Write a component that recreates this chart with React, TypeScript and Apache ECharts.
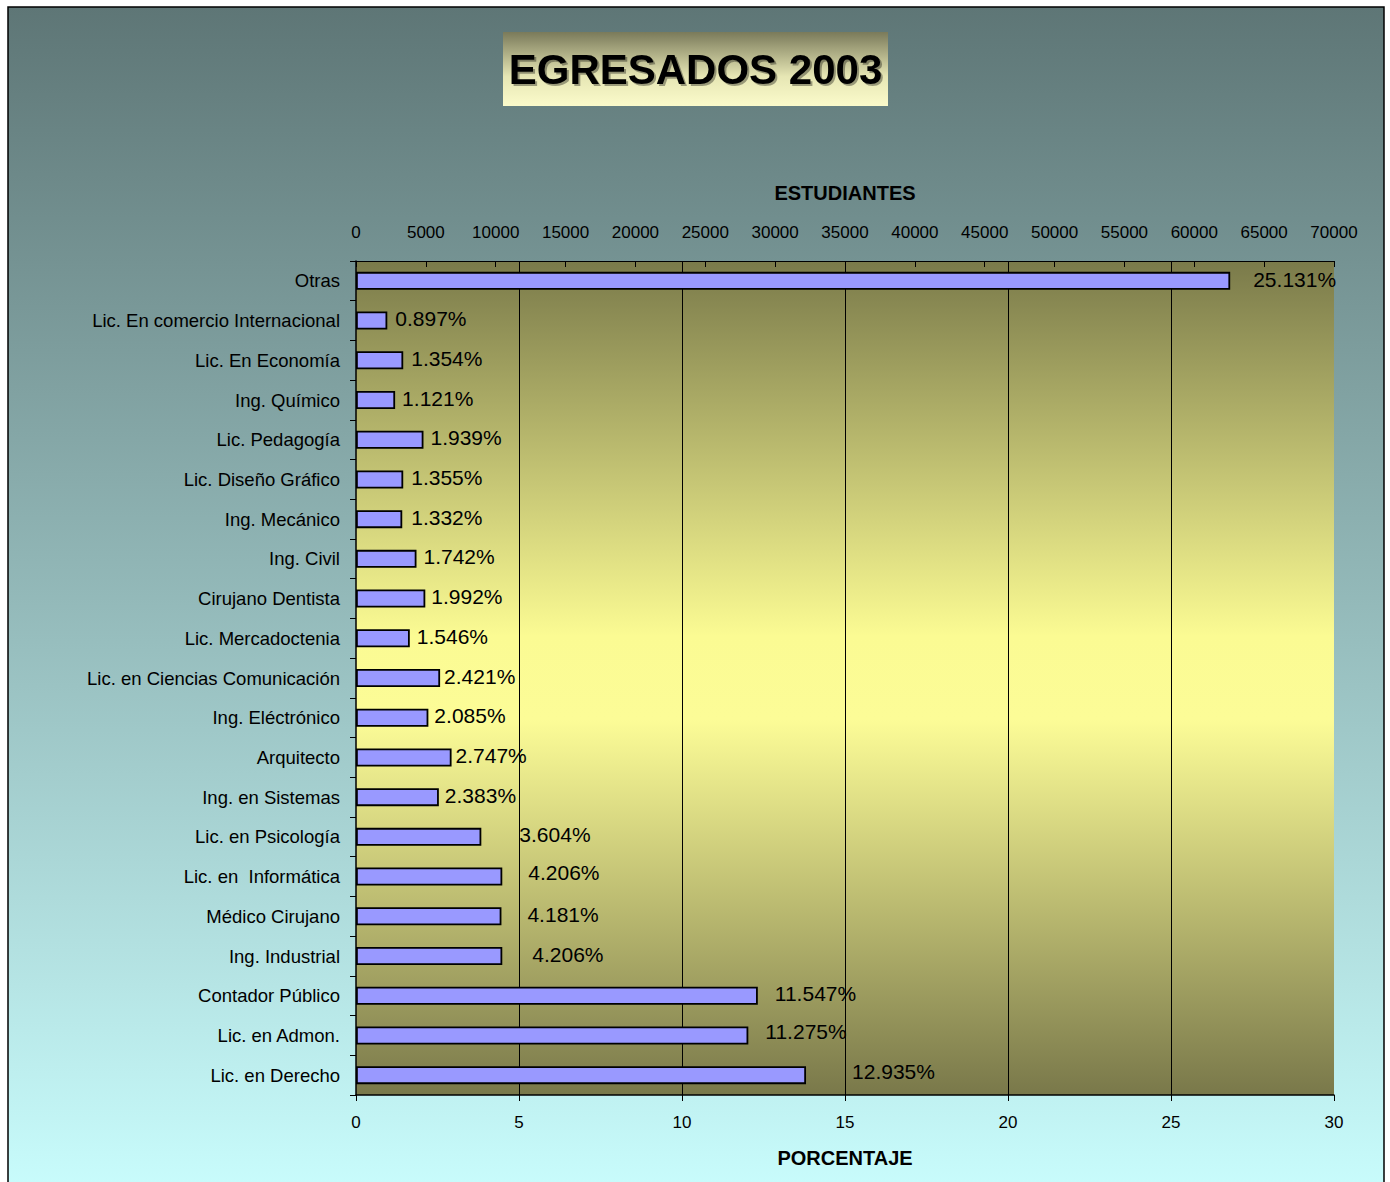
import { useEffect, useRef } from "react";
import * as echarts from "echarts";

const categories = [
  "Otras",
  "Lic. En comercio Internacional",
  "Lic. En Economía",
  "Ing. Químico",
  "Lic. Pedagogía",
  "Lic. Diseño Gráfico",
  "Ing. Mecánico",
  "Ing. Civil",
  "Cirujano Dentista",
  "Lic. Mercadoctenia",
  "Lic. en Ciencias Comunicación",
  "Ing. Eléctrónico",
  "Arquitecto",
  "Ing. en Sistemas",
  "Lic. en Psicología",
  "Lic. en  Informática",
  "Médico Cirujano",
  "Ing. Industrial",
  "Contador Público",
  "Lic. en Admon.",
  "Lic. en Derecho",
];

// number of graduates (read against the top "ESTUDIANTES" axis)
const students = [
  62570, 2240, 3380, 2800, 4830, 3380, 3310, 4330, 4960, 3850, 6020, 5180,
  6840, 5930, 8970, 10470, 10410, 10470, 28760, 28080, 32210,
];

const percentLabels = [
  "25.131%", "0.897%", "1.354%", "1.121%", "1.939%", "1.355%", "1.332%",
  "1.742%", "1.992%", "1.546%", "2.421%", "2.085%", "2.747%", "2.383%",
  "3.604%", "4.206%", "4.181%", "4.206%", "11.547%", "11.275%", "12.935%",
];

// label placement (style only): extra horizontal gap and vertical shift of each data label
const labelShift: [number, number][] = [
  [23, -1], [8, -2], [8, -2], [7, -2], [7, -2], [8, -2], [9, -2],
  [7, -2], [6, -2], [7, -2], [4, -2], [6, -2], [4, -2], [6, -2],
  [38, -2], [26, -4], [26, -2], [30, -2], [17, -2], [17, -4], [46, -4],
];

const studentAxis = { min: 0, max: 70000, interval: 5000 };
const percentAxis = { min: 0, max: 30, interval: 5 };

const FONT = "'Liberation Sans', Arial, sans-serif";

export default function App() {
  const ref = useRef<HTMLDivElement>(null);
  useEffect(() => {
    document.body.style.margin = "0";
    const chart = echarts.init(ref.current!, null, { renderer: "svg" });
    const plotBg = new echarts.graphic.LinearGradient(0, 0, 0, 1, [
      { offset: 0, color: "#7a7a4a" },
      { offset: 0.45, color: "#fbfb93" },
      { offset: 0.55, color: "#fcfc97" },
      { offset: 1, color: "#79784a" },
    ]);
    chart.setOption({
      animation: false,
      backgroundColor: "#ffffff",
      graphic: [
        {
          type: "rect",
          z: -10,
          silent: true,
          shape: { x: 8, y: 7, width: 1376, height: 1190 },
          style: {
            fill: new echarts.graphic.LinearGradient(0, 0, 0, 1, [
              { offset: 0, color: "#5e7676" },
              { offset: 1, color: "#c9fdfd" },
            ]),
            stroke: "#000",
            lineWidth: 1.5,
          },
        },
        {
          type: "rect",
          z: 10,
          shape: { x: 503, y: 32, width: 385, height: 74 },
          style: {
            fill: new echarts.graphic.LinearGradient(0, 0, 0, 1, [
              { offset: 0, color: "#7a7a5a" },
              { offset: 0.6, color: "#e6e6b4" },
              { offset: 1, color: "#fbfbcb" },
            ]),
          },
        },
        {
          type: "text",
          z: 11,
          x: 695.5,
          y: 69,
          style: {
            text: "EGRESADOS 2003",
            font: `bold 42px ${FONT}`,
            fill: "#000",
            align: "center",
            verticalAlign: "middle",
            textShadowColor: "rgba(0,0,0,0.35)",
            textShadowOffsetX: 2,
            textShadowOffsetY: 2,
            textShadowBlur: 1,
          },
        },
      ],
      grid: {
        left: 356,
        top: 261,
        right: 56,
        bottom: 87,
        show: true,
        backgroundColor: plotBg,
        borderWidth: 0,
      },
      xAxis: [
        {
          type: "value",
          position: "top",
          ...studentAxis,
          name: "ESTUDIANTES",
          nameLocation: "middle",
          nameGap: 58,
          nameTextStyle: { fontFamily: FONT, fontWeight: "bold", fontSize: 20, color: "#000" },
          axisLine: { show: true, lineStyle: { color: "#000", width: 1 } },
          axisTick: { show: true, inside: true, length: 6, lineStyle: { color: "#000" } },
          axisLabel: {
            fontFamily: FONT,
            fontSize: 17,
            color: "#000",
            margin: 20,
            formatter: (v: number) => String(v),
          },
          splitLine: { show: false },
        },
        {
          type: "value",
          position: "bottom",
          ...percentAxis,
          name: "PORCENTAJE",
          nameLocation: "middle",
          nameGap: 53,
          nameTextStyle: { fontFamily: FONT, fontWeight: "bold", fontSize: 20, color: "#000" },
          axisLine: { show: true, lineStyle: { color: "#000", width: 1.5 } },
          axisTick: { show: true, length: 6, lineStyle: { color: "#000" } },
          axisLabel: { fontFamily: FONT, fontSize: 17, color: "#000", margin: 19 },
          splitLine: { show: true, showMinLine: false, showMaxLine: false, lineStyle: { color: "#000", width: 1 } },
        },
      ],
      yAxis: {
        type: "category",
        data: categories,
        inverse: true,
        axisLine: { show: true, lineStyle: { color: "#000", width: 1.5 } },
        axisTick: { show: true, length: 6, lineStyle: { color: "#000" } },
        axisLabel: { fontFamily: FONT, fontSize: 18.5, color: "#000", margin: 16 },
      },
      series: [
        {
          type: "bar",
          xAxisIndex: 0,
          data: students.map((v, i) => ({
            value: v,
            label: { distance: labelShift[i][0], offset: [0, labelShift[i][1]] },
          })),
          barWidth: 18,
          itemStyle: { color: "#9999ff", borderColor: "#000", borderWidth: 1.8 },
          label: {
            show: true,
            position: "right",
            fontFamily: FONT,
            fontSize: 21,
            color: "#000",
            formatter: (p: any) => percentLabels[p.dataIndex],
          },
        },
      ],
    });
    return () => chart.dispose();
  }, []);
  return <div ref={ref} style={{ width: 1390, height: 1182 }} />;
}
